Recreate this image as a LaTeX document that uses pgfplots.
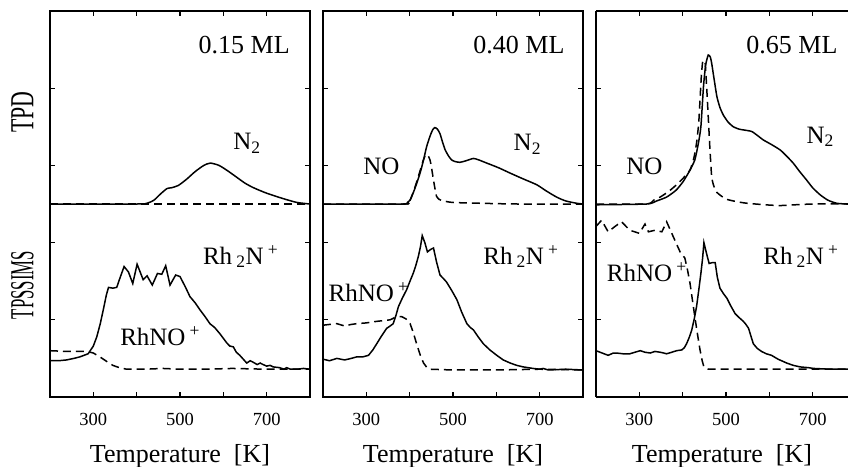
\documentclass[border=0pt]{standalone}
\usepackage{pgfplots}
\pgfplotsset{compat=1.18}
\usepackage{graphicx}
\usepackage{fontspec}
\setmainfont{Liberation Serif}

\newcommand{\lblfont}{\fontsize{26}{30}\selectfont}
\newcommand{\curvefont}{\fontsize{25}{30}\selectfont}
\newcommand{\RhN}{Rh\,\textsubscript{2}N\,\textsuperscript{+}}
\newcommand{\RhNO}{RhNO\,\textsuperscript{+}}

\pgfplotsset{
  panel/.style={
    scale only axis, width=260pt, height=386pt, anchor=south west,
    xmin=200, xmax=800, ymin=0, ymax=5,
    xtick={300,400,500,600,700}, xticklabels={300,,500,,700},
    ytick={1,2,3,4}, yticklabels={},
    xtick pos=both, ytick pos=both, xticklabel pos=lower,
    tick align=inside, major tick length=5pt,
    tick style={line width=1.2pt, black},
    axis line style={line width=1.7pt},
    /pgf/number format/assume math mode=true,
    xticklabel style={font=\fontsize{18.5}{20}\selectfont, anchor=base, yshift=-28pt},
    xlabel={Temperature\ \ [K]},
    xlabel style={font=\lblfont, at={(axis description cs:0.5,0)}, anchor=base, yshift=-65pt},
  },
  sol/.style={black, line width=1.5pt},
  das/.style={black, line width=1.5pt, dash pattern=on 8pt off 5pt},
  every node/.append style={inner sep=0pt},
}

\begin{document}
\begin{tikzpicture}
\path[use as bounding box] (0pt,0pt) rectangle (848pt,-466pt);
\begin{scope}
\clip (0pt,0pt) rectangle (848pt,-466pt);

% ---------------- 0.15 ML ----------------
\begin{axis}[panel, at={(50pt,-397pt)}]
\addplot[sol, smooth, tension=0.4] coordinates {
(200,2.5)(400,2.5)(424,2.51)(440,2.55)(455,2.63)(470,2.70)(480,2.71)(496,2.74)
(515,2.82)(535,2.92)(555,3.00)(570,3.03)(590,3.00)(610,2.93)(630,2.85)(650,2.77)
(670,2.71)(700,2.64)(738,2.57)(770,2.52)(800,2.5)};
\addplot[das] coordinates {(200,2.5)(800,2.5)};
\addplot[sol] coordinates {
(200,0.47)(220,0.47)(238,0.48)(255,0.50)(269,0.52)(288,0.56)(300,0.66)(308,0.78)
(316,0.95)(323,1.13)(330,1.32)(335,1.42)(345,1.41)(354,1.42)(362,1.55)(371,1.69)
(381,1.62)(391,1.47)(401,1.72)(408,1.62)(415,1.52)(424,1.57)(436,1.45)(448,1.60)
(458,1.59)(467,1.70)(477,1.45)(490,1.58)(500,1.56)(512,1.43)(523,1.30)(535,1.22)
(546,1.13)(558,1.04)(569,0.95)(580,0.90)(592,0.82)(600,0.76)(608,0.70)(615,0.66)
(623,0.65)(630,0.58)(638,0.54)(646,0.49)(654,0.44)(662,0.47)(669,0.45)(678,0.42)
(685,0.44)(692,0.42)(700,0.40)(708,0.41)(715,0.39)(730,0.38)(740,0.36)(746,0.38)
(755,0.36)(770,0.36)(785,0.37)(800,0.36)};
\addplot[das] coordinates {
(200,0.60)(240,0.59)(285,0.59)(300,0.57)(315,0.52)(331,0.46)(345,0.41)(360,0.38)
(377,0.36)(420,0.36)(460,0.37)(500,0.36)(560,0.36)(620,0.37)(700,0.36)(800,0.36)};
\node[anchor=base west, font=\lblfont] at (axis cs:535,4.456) {0.15 ML};
\node[anchor=base west, font=\curvefont] at (axis cs:615,3.20) {N\textsubscript{2}};
\node[anchor=base west, font=\curvefont] at (axis cs:545,1.72) {\RhN};
\node[anchor=base west, font=\curvefont] at (axis cs:354,0.665) {\RhNO};
\end{axis}

% ---------------- 0.40 ML ----------------
\begin{axis}[panel, at={(323pt,-397pt)}]
\addplot[sol, smooth, tension=0.4] coordinates {
(200,2.5)(385,2.5)(395,2.52)(401,2.55)(412,2.70)(424,2.90)(432,3.07)(439,3.24)
(447,3.38)(453,3.46)(458,3.49)(464,3.47)(470,3.41)(476,3.30)(482,3.20)(490,3.12)
(497,3.07)(505,3.05)(516,3.04)(530,3.06)(547,3.09)(560,3.07)(578,3.03)(605,2.97)
(632,2.90)(660,2.83)(693,2.75)(715,2.67)(739,2.59)(760,2.54)(785,2.51)(800,2.5)};
\addplot[das, smooth, tension=0.4] coordinates {
(200,2.5)(390,2.5)(400,2.54)(410,2.68)(418,2.82)(424,2.93)(431,3.06)(437,3.14)
(442,3.13)(447,3.07)(451,2.95)(455,2.81)(459,2.68)(462,2.60)(468,2.56)(478,2.54)
(500,2.52)(560,2.51)(650,2.5)(800,2.5)};
\addplot[sol] coordinates {
(200,0.49)(215,0.47)(232,0.50)(250,0.48)(265,0.50)(278,0.52)(292,0.52)(305,0.54)
(315,0.61)(324,0.69)(335,0.79)(347,0.89)(355,0.92)(362,0.95)(368,1.05)(374,1.17)
(383,1.28)(393,1.39)(400,1.49)(408,1.60)(414,1.70)(420,1.82)(425,1.95)(429,2.09)
(435,2.00)(441,1.88)(448,1.91)(455,1.93)(462,1.75)(470,1.58)(477,1.54)(485,1.49)
(497,1.38)(509,1.26)(520,1.10)(532,0.95)(540,0.90)(547,0.87)(558,0.78)(570,0.69)
(585,0.61)(601,0.54)(616,0.48)(632,0.44)(647,0.41)(662,0.39)(685,0.37)(700,0.36)
(708,0.37)(720,0.35)(760,0.36)(800,0.35)};
\addplot[das] coordinates {
(200,0.93)(215,0.94)(232,0.95)(250,0.92)(265,0.94)(278,0.95)(300,0.96)(324,0.98)
(340,0.99)(355,1.00)(366,1.03)(375,1.04)(382,1.04)(392,1.01)(401,0.95)(408,0.84)
(416,0.69)(424,0.55)(432,0.44)(440,0.38)(447,0.36)(500,0.35)(600,0.35)(700,0.36)
(800,0.35)};
\node[anchor=base west, font=\lblfont] at (axis cs:539,4.456) {0.40 ML};
\node[anchor=base west, font=\curvefont] at (axis cs:285,2.876) {NO};
\node[anchor=base west, font=\curvefont] at (axis cs:632,3.19) {N\textsubscript{2}};
\node[anchor=base west, font=\curvefont] at (axis cs:562,1.72) {\RhN};
\node[anchor=base west, font=\curvefont] at (axis cs:205,1.235) {\RhNO};
\end{axis}

% ---------------- 0.65 ML (runs off the right edge) ----------------
\begin{axis}[panel, at={(596pt,-397pt)}, width=252pt, xmax=781.5,
  axis y line*=left, axis x line*=box, ytick pos=left]
\addplot[sol, smooth, tension=0.35] coordinates {
(200,2.49)(317,2.5)(340,2.54)(363,2.59)(385,2.68)(401,2.79)(415,2.92)(428,3.07)
(436,3.28)(442,3.50)(448,4.02)(453,4.30)(459,4.43)(464,4.40)(467,4.32)(473,4.10)
(479,3.89)(486,3.75)(494,3.65)(505,3.56)(517,3.50)(530,3.47)(540,3.46)(559,3.44)
(572,3.39)(586,3.33)(605,3.27)(625,3.20)(640,3.12)(655,3.03)(670,2.92)(686,2.81)
(700,2.71)(717,2.62)(735,2.55)(755,2.51)(778,2.5)(800,2.5)};
\addplot[das, smooth, tension=0.35] coordinates {
(200,2.5)(317,2.5)(333,2.55)(348,2.59)(367,2.66)(386,2.75)(402,2.84)(417,2.94)
(426,3.10)(432,3.29)(437,3.55)(440,3.85)(443,4.15)(446,4.34)(449,4.36)(452,4.32)
(455,4.05)(459,3.63)(463,3.20)(467,2.85)(472,2.73)(479,2.65)(490,2.60)(502,2.56)
(525,2.53)(548,2.51)(590,2.49)(625,2.48)(660,2.49)(702,2.5)(800,2.5)};
\addplot[sol] coordinates {
(200,0.60)(214,0.57)(228,0.54)(240,0.57)(247,0.57)(262,0.56)(278,0.56)(290,0.58)
(302,0.60)(313,0.58)(325,0.57)(336,0.59)(348,0.58)(356,0.57)(363,0.56)(375,0.58)
(386,0.60)(398,0.61)(404,0.64)(409,0.69)(415,0.77)(421,0.87)(427,1.02)(432,1.17)
(437,1.38)(442,1.60)(446,1.80)(449,2.00)(455,1.86)(461,1.73)(468,1.74)(475,1.74)
(480,1.55)(486,1.41)(494,1.34)(502,1.28)(511,1.18)(521,1.08)(530,1.03)(540,0.98)
(546,0.94)(552,0.89)(558,0.78)(563,0.69)(572,0.63)(582,0.59)(593,0.56)(605,0.54)
(620,0.49)(640,0.44)(655,0.41)(671,0.39)(690,0.38)(702,0.37)(740,0.36)(778,0.36)
(800,0.36)};
\addplot[das] coordinates {
(200,2.21)(213,2.29)(228,2.14)(244,2.21)(259,2.27)(278,2.16)(300,2.12)(313,2.24)
(321,2.14)(336,2.16)(352,2.14)(363,2.27)(378,2.08)(394,1.88)(405,1.80)(411,1.65)
(417,1.47)(428,1.04)(434,0.82)(440,0.61)(445,0.47)(449,0.39)(459,0.36)(500,0.36)
(600,0.36)(700,0.36)(800,0.36)};
\node[anchor=base west, font=\lblfont] at (axis cs:539,4.456) {0.65 ML};
\node[anchor=base west, font=\curvefont] at (axis cs:262,2.876) {NO};
\node[anchor=base west, font=\curvefont] at (axis cs:678,3.29) {N\textsubscript{2}};
\node[anchor=base west, font=\curvefont] at (axis cs:578,1.72) {\RhN};
\node[anchor=base west, font=\curvefont] at (axis cs:217,1.49) {\RhNO};
\end{axis}

% row labels
\node[rotate=90, font=\fontsize{28}{30}\selectfont] at (22.5pt,-112pt) {\scalebox{0.78}[1.2]{TPD}};
\node[rotate=90, font=\fontsize{28}{30}\selectfont] at (22.5pt,-285pt) {\scalebox{0.6}[1.2]{TPSSIMS}};
\end{scope}
\end{tikzpicture}
\end{document}
